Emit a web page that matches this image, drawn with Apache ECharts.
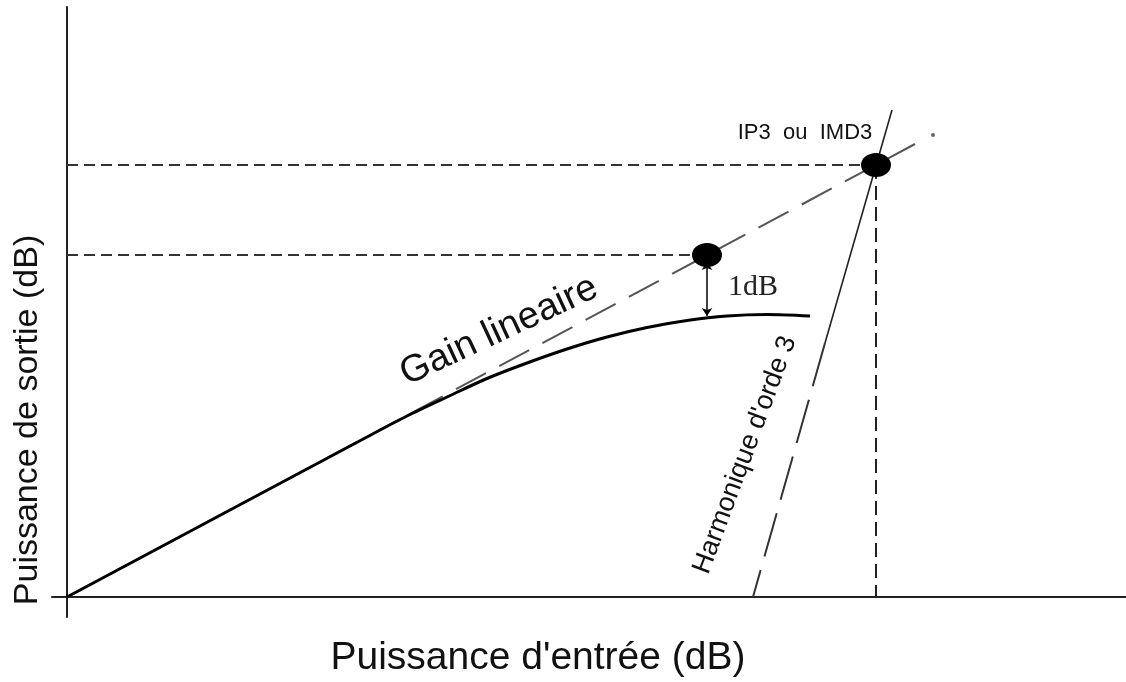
<!DOCTYPE html>
<html>
<head>
<meta charset="utf-8">
<script src="https://cdn.jsdelivr.net/npm/echarts@6/dist/echarts.min.js"></script>
<style>
	html,body{margin:0;padding:0;background:#fff;}
	#chart{width:1126px;height:682px;}
</style>
</head>
<body>
<div id="chart"></div>
<script>
	// points (x: input dB, y: output dB, arbitrary units)
	const ip3 = [80.9, 43.2]
	const p1dB = [64.0, 34.2]
	const gainLine = [[0, 0], [84.8, 45.3]]
	const gainTip = [[86.6, 46.2]]
	const curveX = [0, 30, 34, 38, 42, 46, 50, 54, 58, 62, 66, 70, 74.3]
	const curveY = [0, 16.0, 18.1, 20.0, 21.85, 23.4, 24.8, 26.0, 26.95, 27.65, 28.1, 28.25, 28.1]
	const harmSolid = [[82.5, 48.7], [75.8, 25.4]]
	const harmDash = [[75.8, 25.4], [68.6, 0]]
	const arrow1dB = [[64.0, 33.5], [64.0, 28.1]]

	const fontSans = 'Liberation Sans, Arial, sans-serif'
	const ellipse = 'path://M0,10 A10,10 0 1,0 20,10 A10,10 0 1,0 0,10 Z'

	const curve = curveX.map((x, i) => [x, curveY[i]])

	const chart = echarts.init(document.getElementById('chart'))
	const option = {
		animation: false,
		backgroundColor: '#fff',
		grid: {left: 52, right: 0, top: 7, bottom: 65},
		xAxis: {
			type: 'value', min: -1.5, max: 105.9,
			axisLine: {show: true, onZero: true, lineStyle: {color: '#222', width: 2}},
			axisTick: {show: false}, axisLabel: {show: false}, splitLine: {show: false}
		},
		yAxis: {
			type: 'value', min: -2, max: 59,
			axisLine: {show: true, onZero: true, lineStyle: {color: '#222', width: 2}},
			axisTick: {show: false}, axisLabel: {show: false}, splitLine: {show: false}
		},
		graphic: [
			{type: 'text', x: 538, y: 658, style: {text: "Puissance d'entrée (dB)", font: '39px ' + fontSans, fill: '#111', align: 'center', verticalAlign: 'middle'}},
			{type: 'text', x: 28, y: 420, rotation: Math.PI / 2, style: {text: 'Puissance de sortie (dB)', font: '34px ' + fontSans, fill: '#111', align: 'center', verticalAlign: 'middle'}}
		],
		series: [
			{ // horizontal / vertical reference lines
				type: 'line', symbol: 'none', data: [[0, ip3[1]], ip3],
				lineStyle: {color: '#333', width: 2, type: [11, 6]}
			},
			{
				type: 'line', symbol: 'none', data: [[0, p1dB[1]], p1dB],
				lineStyle: {color: '#333', width: 2, type: [11, 6]}
			},
			{
				type: 'line', symbol: 'none', data: [ip3, [ip3[0], 0]],
				lineStyle: {color: '#222', width: 2, type: [14, 7]}
			},
			{ // gain lineaire
				type: 'line', symbol: 'none', data: gainLine,
				lineStyle: {color: '#555', width: 2, type: [34, 15]}
			},
			{
				type: 'scatter', data: gainTip, symbolSize: 4, itemStyle: {color: '#666', opacity: 1}
			},
			{ // harmonique d'ordre 3
				type: 'line', symbol: 'none', data: harmSolid,
				lineStyle: {color: '#222', width: 1.6}
			},
			{
				type: 'line', symbol: 'none', data: harmDash,
				lineStyle: {color: '#333', width: 2, type: [45, 14]}
			},
			{ // courbe reelle
				type: 'line', symbol: 'none', smooth: 0.3, data: curve,
				lineStyle: {color: '#000', width: 3}
			},
			{
				type: 'lines', coordinateSystem: 'cartesian2d',
				symbol: ['arrow', 'arrow'], symbolSize: 8,
				lineStyle: {color: '#000', width: 1.5, opacity: 1},
				data: [{coords: arrow1dB}]
			},
			{ // points IP3 / 1dB
				type: 'scatter', symbol: ellipse, symbolSize: [30, 24],
				itemStyle: {color: '#000', opacity: 1}, data: [ip3, p1dB], z: 5
			},
			{ // textes
				type: 'scatter', symbolSize: 1, itemStyle: {color: 'transparent', opacity: 1}, z: 6,
				label: {show: true, position: 'inside', color: '#111', opacity: 1, fontFamily: fontSans},
				data: [
					{value: [43.2, 26.6], label: {formatter: 'Gain lineaire', fontSize: 38, rotate: 25}},
					{value: [67.8, 14.2], label: {formatter: "Harmonique d'orde 3", fontSize: 27, rotate: 69.5}},
					{value: [73.8, 46.4], label: {formatter: 'IP3  ou  IMD3', fontSize: 22}},
					{value: [68.6, 31.0], label: {formatter: '1dB', fontSize: 30, fontFamily: 'Liberation Serif, Times New Roman, serif', color: '#222'}}
				]
			}
		]
	}
	chart.setOption(option)
</script>
</body>
</html>
